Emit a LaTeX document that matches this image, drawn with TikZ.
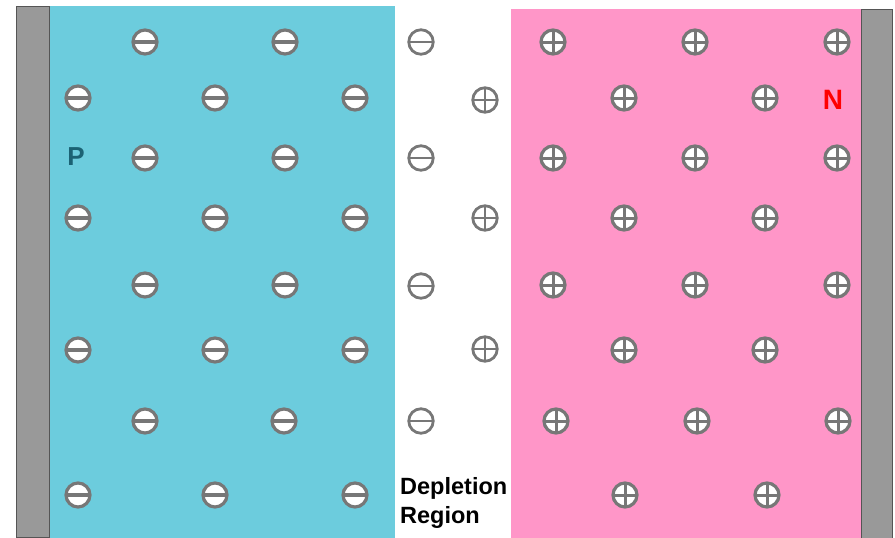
\documentclass[tikz,border=0pt]{standalone}
\usepackage{fontspec}
\setmainfont{Liberation Sans}
\definecolor{cyanP}{HTML}{6CCCDD}
\definecolor{pinkN}{HTML}{FF96C8}
\definecolor{bargray}{HTML}{999999}
\definecolor{barline}{HTML}{555555}
\definecolor{iongray}{HTML}{777777}
\definecolor{ptext}{HTML}{1B6274}
\tikzset{
  ionbase/.style={circle, draw=iongray, fill=white, line width=3.2pt, minimum size=24pt, inner sep=0pt},
  negion/.style={ionbase, path picture={\draw[iongray, line width=3.2pt] (path picture bounding box.west) -- (path picture bounding box.east);}},
  posion/.style={ionbase, path picture={\draw[iongray, line width=3pt] (path picture bounding box.west) -- (path picture bounding box.east) (path picture bounding box.north) -- (path picture bounding box.south);}},
  depbase/.style={circle, draw=iongray, line width=2.8pt, minimum size=24.5pt, inner sep=0pt},
  depneg/.style={depbase, path picture={\draw[iongray, line width=2.8pt] (path picture bounding box.west) -- (path picture bounding box.east);}},
  deppos/.style={depbase, path picture={\draw[iongray, line width=2.8pt] (path picture bounding box.west) -- (path picture bounding box.east) (path picture bounding box.north) -- (path picture bounding box.south);}},
  contact/.style={fill=bargray, draw=barline, line width=1pt},
  lbl/.style={font=\bfseries\fontsize{26}{30}\selectfont, inner sep=0pt}
}
\begin{document}
\begin{tikzpicture}[x=1pt,y=-1pt]
\useasboundingbox (0,0) rectangle (895,538);
\fill[white] (0,0) rectangle (895,538);
% regions
\fill[cyanP] (49,6) rectangle (395,538);
\fill[pinkN] (511,9) rectangle (861,538);
\draw[contact] (16,6) rectangle (49,537);
\draw[contact] (861,9) rectangle (892,540);
% P region negative ions
\foreach \x/\y [count=\i] in {145/42,285/42, 78/98,215/98,355/98, 145/158,285/158, 78/218,215/218,355/218, 145/285,285/285, 78/350,215/350,355/350, 145/421,284/421, 78/495,215/495,355/495}
  \node[negion] (p\i) at (\x,\y) {};
% depletion region
\foreach \y [count=\i] in {42,158,286,421}
  \node[depneg] (dn\i) at (421,\y) {};
\foreach \y [count=\i] in {100,218,349}
  \node[deppos] (dp\i) at (485,\y) {};
% N region positive ions
\foreach \x/\y [count=\i] in {553/42,695/42,837/42, 624/98,765/98, 553/158,695/158,837/158, 624/218,765/218, 553/285,695/285,837/285, 624/350,765/350, 556/421,697/421,838/421, 625/495,767/495}
  \node[posion] (n\i) at (\x,\y) {};
% labels
\node[lbl, text=ptext] (plabel) at (76,157) {P};
\node[lbl, text=red, font=\bfseries\fontsize{28}{32}\selectfont] (nlabel) at (833,100) {N};
\node[font=\bfseries\fontsize{23.5}{29}\selectfont, align=left, inner sep=0pt, anchor=north west] (dep) at (400,477) {Depletion\\Region};
\end{tikzpicture}
\end{document}
